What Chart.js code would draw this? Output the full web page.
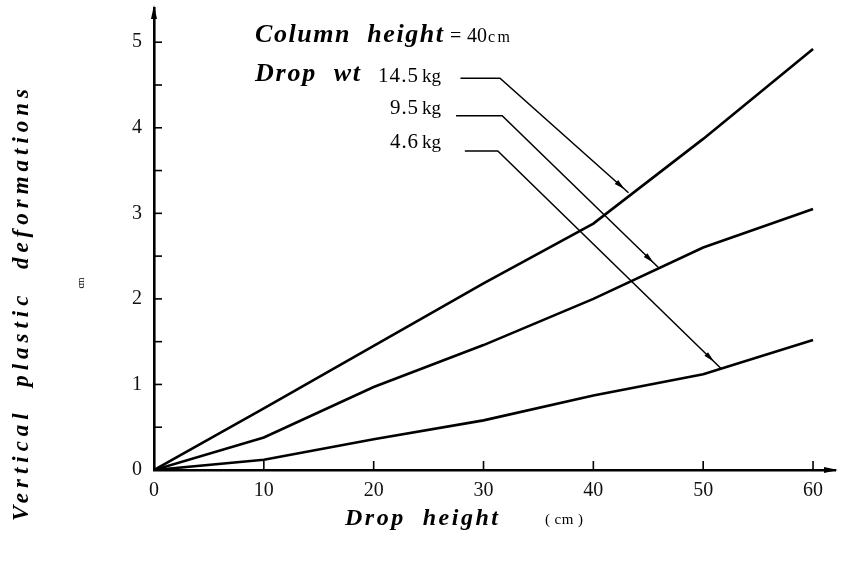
<!DOCTYPE html>
<html>
<head>
<meta charset="utf-8">
<script src="https://cdn.jsdelivr.net/npm/chart.js@4/dist/chart.umd.min.js"></script>
<style>
  html, body { margin: 0; padding: 0; background: #fff; }
  #wrap { width: 846px; height: 566px; }
</style>
</head>
<body>
<div id="wrap"><canvas id="chart"></canvas></div>
<script>
// Werte
const dropHeight = [0, 10, 20, 30, 40, 50, 60];
const deform14 = [0, 0.72, 1.45, 2.18, 2.88, 3.87, 4.92];
const deform9 = [0, 0.38, 0.97, 1.46, 2.0, 2.6, 3.05];
const deform4 = [0, 0.12, 0.36, 0.58, 0.87, 1.12, 1.52];
const weightLabels = ["14.5", "9.5", "4.6"];
const xTicks = [0, 10, 20, 30, 40, 50, 60];
const yTicks = [0, 1, 2, 3, 4, 5];

// Hinweislinien (in Datenkoordinaten: Anfang, Knick, Spitze)
const leader14 = [[27.9, 4.58], [31.5, 4.58], [43.2, 3.24]];
const leader9 = [[27.5, 4.14], [31.7, 4.14], [45.9, 2.37]];
const leader4 = [[28.3, 3.73], [31.3, 3.73], [51.6, 1.19]];

const serif = "'Liberation Serif', 'DejaVu Serif', serif";

function toPoints(ys) {
  return dropHeight.map((x, i) => ({ x: x, y: ys[i] }));
}

function lineSet(label, ys) {
  return {
    label: label,
    data: toPoints(ys),
    borderColor: '#000',
    borderWidth: 2.6,
    pointRadius: 0,
    tension: 0,
    fill: false
  };
}

// Text mit Sperrung auf eine Zielbreite bringen
function fitText(ctx, text, x, y, width, font, align) {
  ctx.save();
  ctx.font = font;
  ctx.letterSpacing = '0px';
  const w = ctx.measureText(text).width;
  const sp = (width - w) / Math.max(1, text.length - 1);
  ctx.letterSpacing = sp + 'px';
  ctx.textAlign = 'left';
  ctx.textBaseline = 'alphabetic';
  let x0 = x;
  if (align === 'center') x0 = x - width / 2;
  if (align === 'right') x0 = x - width;
  ctx.fillText(text, x0, y);
  ctx.restore();
}

function plainText(ctx, text, x, y, font) {
  ctx.save();
  ctx.font = font;
  ctx.textAlign = 'left';
  ctx.textBaseline = 'alphabetic';
  ctx.fillText(text, x, y);
  ctx.restore();
}

function arrowHead(ctx, x1, y1, x2, y2, len, half) {
  const a = Math.atan2(y2 - y1, x2 - x1);
  ctx.beginPath();
  ctx.moveTo(x2, y2);
  ctx.lineTo(x2 - len * Math.cos(a) + half * Math.sin(a), y2 - len * Math.sin(a) - half * Math.cos(a));
  ctx.lineTo(x2 - len * Math.cos(a) - half * Math.sin(a), y2 - len * Math.sin(a) + half * Math.cos(a));
  ctx.closePath();
  ctx.fill();
}

const decorPlugin = {
  id: 'decor',
  afterDraw(chart) {
    const ctx = chart.ctx;
    const xs = chart.scales.x, ys = chart.scales.y;
    const area = chart.chartArea;
    ctx.save();
    ctx.strokeStyle = '#000';
    ctx.fillStyle = '#000';

    // Teilstriche nach innen
    ctx.lineWidth = 1.6;
    for (let v = 0.5; v <= 5; v += 0.5) {
      const py = ys.getPixelForValue(v);
      ctx.beginPath();
      ctx.moveTo(area.left, py);
      ctx.lineTo(area.left + 8, py);
      ctx.stroke();
    }
    xTicks.forEach(v => {
      if (v === 0) return;
      const px = xs.getPixelForValue(v);
      ctx.beginPath();
      ctx.moveTo(px, area.bottom);
      ctx.lineTo(px, area.bottom - 9);
      ctx.stroke();
    });

    // Achsenpfeile
    arrowHead(ctx, area.left, area.bottom, area.left, area.top - 3, 14, 3);
    arrowHead(ctx, area.left, area.bottom, area.right + 3, area.bottom, 14, 3);

    // Hinweislinien
    ctx.lineWidth = 1.5;
    [leader14, leader9, leader4].forEach(pts => {
      const p = pts.map(q => [xs.getPixelForValue(q[0]), ys.getPixelForValue(q[1])]);
      ctx.beginPath();
      ctx.moveTo(p[0][0], p[0][1]);
      ctx.lineTo(p[1][0], p[1][1]);
      ctx.lineTo(p[2][0], p[2][1]);
      ctx.stroke();
      const n = p.length;
      const tx = p[n - 1][0] - (p[n - 1][0] - p[n - 2][0]) * 0.03;
      const ty = p[n - 1][1] - (p[n - 1][1] - p[n - 2][1]) * 0.03;
      arrowHead(ctx, p[n - 2][0], p[n - 2][1], tx, ty, 11, 2.6);
    });

    // Beschriftung
    ctx.fillStyle = '#000';
    fitText(ctx, 'Column  height', 255, 42, 188, 'italic bold 26px ' + serif);
    plainText(ctx, '=', 450, 42, '20px ' + serif);
    plainText(ctx, '40', 467, 42, '20px ' + serif);
    fitText(ctx, 'cm', 488, 42, 22, '16px ' + serif);
    fitText(ctx, 'Drop  wt', 255, 81, 105, 'italic bold 26px ' + serif);

    const baseY = [82, 114, 148];
    const numW = [40, 28, 28];
    weightLabels.forEach((t, i) => {
      fitText(ctx, t, 418 - numW[i], baseY[i], numW[i], '21px ' + serif);
      plainText(ctx, 'kg', 422, baseY[i], '19px ' + serif);
    });

    // Achsentitel
    fitText(ctx, 'Drop  height', 345, 525, 153, 'italic bold 24px ' + serif);
    fitText(ctx, '( cm )', 545, 524, 38, '15px ' + serif);

    ctx.save();
    ctx.translate(28, 305);
    ctx.rotate(-Math.PI / 2);
    fitText(ctx, 'Vertical  plastic  deformations', 0, 0, 432, 'italic bold 23px ' + serif, 'center');
    ctx.restore();
    ctx.save();
    ctx.translate(84, 283);
    ctx.rotate(-Math.PI / 2);
    fitText(ctx, 'cm', 0, 0, 11, '10px ' + serif, 'center');
    ctx.restore();

    ctx.restore();
  }
};

new Chart(document.getElementById('chart'), {
  type: 'line',
  data: {
    datasets: [
      lineSet('14.5kg', deform14),
      lineSet('9.5kg', deform9),
      lineSet('4.6kg', deform4)
    ]
  },
  options: {
    responsive: true,
    maintainAspectRatio: false,
    animation: false,
    layout: { padding: { top: 8, right: 11, left: 0, bottom: 0 } },
    plugins: {
      legend: { display: false },
      tooltip: { enabled: false }
    },
    scales: {
      x: {
        type: 'linear',
        min: 0,
        max: 62,
        afterFit(scale) { scale.height = 96; },
        afterBuildTicks(scale) { scale.ticks = xTicks.map(v => ({ value: v })); },
        grid: { display: false, drawTicks: false },
        border: { color: '#000', width: 2.6 },
        ticks: {
          color: '#111',
          padding: 9,
          font: { family: serif, size: 20 },
          maxRotation: 0
        }
      },
      y: {
        type: 'linear',
        min: 0,
        max: 5.4,
        afterFit(scale) {
          scale.width = 154;
          scale.paddingTop = 0;
          scale.paddingBottom = 0;
        },
        afterBuildTicks(scale) { scale.ticks = yTicks.map(v => ({ value: v })); },
        grid: { display: false, drawTicks: false },
        border: { color: '#000', width: 2.6 },
        ticks: {
          color: '#111',
          padding: 12,
          font: { family: serif, size: 20 }
        }
      }
    }
  },
  plugins: [decorPlugin]
});
</script>
</body>
</html>
